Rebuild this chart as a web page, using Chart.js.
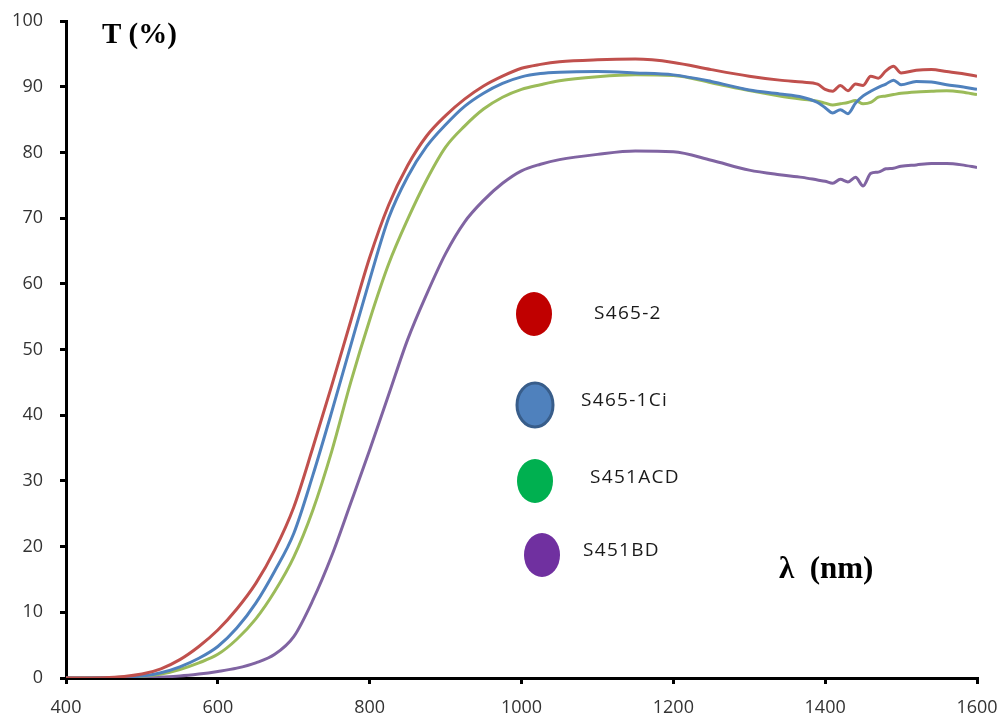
<!DOCTYPE html>
<html lang="en">
<head>
    <meta charset="UTF-8">
    <title>Transmittance spectra</title>
    <script src="https://cdn.jsdelivr.net/npm/chart.js"></script>
    <style>
        html, body { margin: 0; padding: 0; background: #fff; }
        .chart-box { width: 1002px; height: 717px; position: relative; }
    </style>
</head>
<body>
    <div class="chart-box">
        <canvas id="spectraChart"></canvas>
    </div>

    <script>
        // wavelength grid (nm) shared by all samples
        const wavelength = [400, 450, 500, 525, 550, 575, 600, 625, 650, 675, 700, 725, 750, 775, 800, 825, 850, 875, 900, 925,
            950, 975, 1000, 1025, 1050, 1100, 1150, 1200, 1250, 1300, 1340, 1370, 1390, 1400, 1410, 1420, 1430, 1440, 1450, 1460,
            1470, 1480, 1490, 1500, 1520, 1540, 1560, 1580, 1600];

        // transmittance T (%)
        const s465_2 = [0, 0.05, 0.6, 1.4, 2.8, 4.8, 7.3, 10.5, 14.4, 19.5, 26, 35, 44.5, 54.3, 64, 72, 78, 82.5, 85.6, 88.1,
            90.1, 91.6, 92.8, 93.4, 93.8, 94.1, 94.2, 93.7, 92.6, 91.6, 91.0, 90.7, 90.4, 89.6, 89.3, 90.2, 89.4, 90.4, 90.2, 91.6,
            91.3, 92.4, 93.1, 92.1, 92.5, 92.6, 92.3, 92.0, 91.6];
        const s465_1Ci = [0, 0.03, 0.3, 0.8, 1.7, 3.0, 4.8, 7.6, 11.4, 16.3, 22.0, 30.8, 40.5, 50.6, 60.6, 70, 76.3, 80.9, 84.2, 87.0,
            89.0, 90.5, 91.5, 92.0, 92.2, 92.3, 92.1, 91.8, 90.8, 89.5, 88.9, 88.4, 87.6, 86.8, 86.0, 86.5, 85.9, 87.5, 88.6, 89.3,
            89.9, 90.4, 91.0, 90.3, 90.8, 90.7, 90.3, 90.0, 89.6];
        const s451ACD = [0, 0.02, 0.25, 0.6, 1.3, 2.3, 3.6, 5.9, 9.0, 13.2, 18.4, 25.5, 34.5, 45, 54.5, 63, 69.8, 75.8, 80.8, 84.0,
            86.6, 88.4, 89.6, 90.3, 90.9, 91.5, 91.8, 91.7, 90.6, 89.4, 88.6, 88.1, 87.8, 87.5, 87.2, 87.4, 87.6, 87.9, 87.4, 87.6,
            88.4, 88.6, 88.8, 89.0, 89.2, 89.3, 89.4, 89.2, 88.8];
        const s451BD = [0, 0, 0.05, 0.15, 0.3, 0.6, 1.0, 1.5, 2.3, 3.6, 6.3, 11.8, 18.6, 26.6, 34.7, 43.1, 51.5, 58.4, 64.6, 69.4,
            72.7, 75.3, 77.2, 78.2, 78.9, 79.7, 80.2, 80.1, 78.8, 77.3, 76.6, 76.2, 75.8, 75.6, 75.3, 75.9, 75.5, 76.2, 74.9, 76.8,
            77.0, 77.5, 77.6, 77.9, 78.1, 78.3, 78.3, 78.1, 77.7];

        const sampleNames = ['S465-2', 'S465-1Ci', 'S451ACD', 'S451BD'];
        const sampleSeries = [s465_2, s465_1Ci, s451ACD, s451BD];
        const lineColors = ['#C0504D', '#4F81BD', '#9BBB59', '#8064A2'];
        const markerColors = ['#C00000', '#4F81BD', '#00B050', '#7030A0'];

        const toPoints = ys => ys.map((y, i) => ({ x: wavelength[i], y: y }));

        // hand-placed legend: ellipse centre + label anchor
        const legendSpots = [
            { cx: 534, cy: 314, tx: 594, ty: 314 },
            { cx: 535, cy: 405, tx: 581, ty: 401 },
            { cx: 535, cy: 481, tx: 590, ty: 478 },
            { cx: 542, cy: 555, tx: 583, ty: 551 }
        ];

        const annotations = {
            id: 'annotations',
            afterDatasetsDraw(chart) {
                const ctx = chart.ctx;
                ctx.save();
                legendSpots.forEach((p, i) => {
                    ctx.beginPath();
                    ctx.ellipse(p.cx, p.cy, 18, 22, 0, 0, Math.PI * 2);
                    ctx.fillStyle = markerColors[i];
                    ctx.fill();
                    if (i === 1) {
                        ctx.lineWidth = 3;
                        ctx.strokeStyle = '#385D8A';
                        ctx.stroke();
                    }
                    ctx.fillStyle = '#1a1a1a';
                    ctx.font = '19px "Open Sans"';
                    ctx.letterSpacing = '1.3px';
                    ctx.textAlign = 'left';
                    ctx.textBaseline = 'middle';
                    ctx.fillText(sampleNames[i], p.tx, p.ty);
                });
                ctx.letterSpacing = '0px';
                ctx.fillStyle = '#000';
                ctx.textBaseline = 'middle';
                ctx.font = 'bold 29px "Liberation Serif"';
                ctx.fillText('T (%)', 102, 36);
                ctx.font = 'bold 31px "Liberation Serif"';
                ctx.fillText('\u03bb  (nm)', 779, 570);
                ctx.restore();
            }
        };

        new Chart(document.getElementById('spectraChart'), {
            type: 'line',
            data: {
                datasets: sampleSeries.map((ys, i) => ({
                    label: sampleNames[i],
                    data: toPoints(ys),
                    borderColor: lineColors[i],
                    borderWidth: 3,
                    pointRadius: 0,
                    fill: false,
                    cubicInterpolationMode: 'monotone'
                }))
            },
            options: {
                responsive: true,
                maintainAspectRatio: false,
                animation: false,
                layout: { padding: { top: 21, right: 25, left: 0, bottom: 0 } },
                plugins: {
                    legend: { display: false },
                    tooltip: { enabled: false }
                },
                scales: {
                    x: {
                        type: 'linear',
                        min: 400,
                        max: 1600,
                        afterFit: s => { s.height = 39; s.paddingLeft = 0; s.paddingRight = 0; },
                        ticks: {
                            stepSize: 200,
                            color: '#333',
                            padding: 13,
                            maxRotation: 0,
                            callback: v => String(v),
                            font: { family: '"Open Sans"', size: 18 }
                        },
                        grid: { drawOnChartArea: false, drawTicks: true, tickLength: 6, color: '#000', lineWidth: 3 },
                        border: { color: '#000', width: 3 }
                    },
                    y: {
                        min: 0,
                        max: 100,
                        afterFit: s => { s.width = 66; s.paddingTop = 0; s.paddingBottom = 0; },
                        ticks: {
                            stepSize: 10,
                            color: '#333',
                            padding: 17,
                            font: { family: '"Open Sans"', size: 18 }
                        },
                        grid: { drawOnChartArea: false, drawTicks: true, tickLength: 6, color: '#000', lineWidth: 3 },
                        border: { color: '#000', width: 3 }
                    }
                }
            },
            plugins: [annotations]
        });
    </script>
</body>
</html>
